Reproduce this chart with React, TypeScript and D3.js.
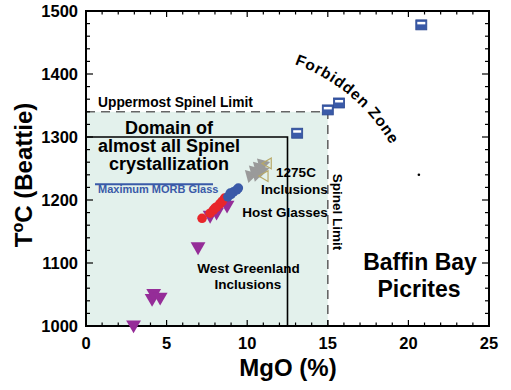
import React from "react";
import * as d3 from "d3";

const W = 511, H = 390;
const FONT = "Arial, 'Liberation Sans', sans-serif";

// axis ticks
const xMajor = [0, 5, 10, 15, 20, 25];
const yMajor = [1000, 1100, 1200, 1300, 1400, 1500];

// data (MgO %, T °C)
const baffinSquares: [number, number][] = [[20.8, 1478], [15.7, 1354], [15.0, 1343], [13.1, 1306]];
const hostBlue: [number, number][] = [[8.8, 1205], [9.0, 1209], [9.15, 1213], [9.35, 1216], [9.45, 1219], [8.95, 1211]];
const hostRed: [number, number][] = [[7.2, 1171], [7.7, 1179], [7.9, 1184], [8.1, 1189], [8.3, 1194], [8.45, 1198], [8.6, 1203], [8.0, 1187]];
const westGreenland: [number, number][] = [[2.95, 1002], [4.1, 1044], [4.2, 1052], [4.6, 1046], [6.95, 1126], [7.7, 1176], [8.1, 1181], [8.75, 1192]];
const inclusions1275: [number, number][] = [[10.2, 1239], [10.45, 1246], [10.7, 1252], [10.95, 1257], [10.6, 1241], [10.9, 1247]];
const openTri: [number, number][] = [[11.3, 1258], [11.1, 1238]];
const smallDot: [number, number][] = [[20.65, 1240]];

// region limits
const spinelLimitMgO = 15;
const spinelLimitT = 1340;
const domainMgO = 12.5;
const domainT = 1300;
const morbGlassT = 1225;

export default function App() {
  const x = d3.scaleLinear().domain([0, 25]).range([86, 489]);
  const y = d3.scaleLinear().domain([1000, 1500]).range([326, 11]);
  const xMinor = d3.range(0, 25.01, 1);
  const yMinor = d3.range(1000, 1500.01, 20);
  const tri = d3.symbol().type(d3.symbolTriangle).size(95)()!;
  const triGray = d3.symbol().type(d3.symbolTriangle).size(80)()!;

  // Forbidden Zone arc
  const cx = 232, cy = 236, r = 183;
  const a0 = (20 * Math.PI) / 180, a1 = (80 * Math.PI) / 180;
  const arcPath = `M ${cx + r * Math.sin(a0)} ${cy - r * Math.cos(a0)} A ${r} ${r} 0 0 1 ${cx + r * Math.sin(a1)} ${cy - r * Math.cos(a1)}`;

  return (
    <svg width={W} height={H} style={{ position: "absolute", left: 0, top: 0, background: "#fff" }} fontFamily={FONT}>
      <defs>
        <path id="fz" d={arcPath} />
      </defs>
      {/* shaded spinel domain */}
      <rect x={x(0)} y={y(spinelLimitT)} width={x(spinelLimitMgO) - x(0)} height={y(1000) - y(spinelLimitT)} fill="#e3f1ec" />
      <path d={`M${x(0)},${y(spinelLimitT)} H${x(spinelLimitMgO)} V${y(1000)}`} fill="none" stroke="#666" strokeWidth={1.6} strokeDasharray="9,6" />
      <path d={`M${x(0)},${y(domainT)} H${x(domainMgO)} V${y(1000)}`} fill="none" stroke="#000" strokeWidth={1.6} />
      <line x1={95} x2={213} y1={y(morbGlassT)} y2={y(morbGlassT)} stroke="#3a5aa8" strokeWidth={2} />

      {/* ticks */}
      {xMinor.map((v) => {
        const len = v % 5 === 0 ? 6 : 3.5;
        return (
          <g key={"xt" + v}>
            <line x1={x(v)} x2={x(v)} y1={y(1000)} y2={y(1000) - len} stroke="#000" strokeWidth={1.2} />
            <line x1={x(v)} x2={x(v)} y1={y(1500)} y2={y(1500) + len} stroke="#000" strokeWidth={1.2} />
          </g>
        );
      })}
      {yMinor.map((v) => {
        const len = v % 100 === 0 ? 7 : 4;
        return (
          <g key={"yt" + v}>
            <line x1={x(0)} x2={x(0) + len} y1={y(v)} y2={y(v)} stroke="#000" strokeWidth={1.2} />
            <line x1={x(25)} x2={x(25) - len} y1={y(v)} y2={y(v)} stroke="#000" strokeWidth={1.2} />
          </g>
        );
      })}
      <rect x={x(0)} y={y(1500)} width={x(25) - x(0)} height={y(1000) - y(1500)} fill="none" stroke="#000" strokeWidth={2} />

      {xMajor.map((v) => (
        <text key={"xl" + v} x={x(v)} y={349} textAnchor="middle" fontSize={16.5} fontWeight="bold">{v}</text>
      ))}
      {yMajor.map((v) => (
        <text key={"yl" + v} x={78} y={y(v) + 6} textAnchor="end" fontSize={16.5} fontWeight="bold">{v}</text>
      ))}
      <text x={288} y={376} textAnchor="middle" fontSize={24} fontWeight="bold">MgO (%)</text>
      <text transform={`translate(32,175) rotate(-90)`} textAnchor="middle" fontSize={24} fontWeight="bold">
        T<tspan fontSize={16} dy={-9}>o</tspan><tspan dy={9}>C (Beattie)</tspan>
      </text>

      {/* annotations */}
      <text x={98} y={107} fontSize={13.8} fontWeight="bold">Uppermost Spinel Limit</text>
      <text x={169} y={134} textAnchor="middle" fontSize={18} fontWeight="bold">Domain of</text>
      <text x={169} y={152} textAnchor="middle" fontSize={18} fontWeight="bold">almost all Spinel</text>
      <text x={169} y={170} textAnchor="middle" fontSize={18} fontWeight="bold">crystallization</text>
      <text x={98} y={193} fontSize={11} fontWeight="bold" fill="#3a5aa8">Maximum MORB Glass</text>
      <text x={296} y={177} textAnchor="middle" fontSize={13.5} fontWeight="bold">1275C</text>
      <text x={294.5} y={194} textAnchor="middle" fontSize={13.5} fontWeight="bold">Inclusions</text>
      <text x={285} y={217} textAnchor="middle" fontSize={13.5} fontWeight="bold">Host Glasses</text>
      <text x={248.5} y={273} textAnchor="middle" fontSize={13.5} fontWeight="bold">West Greenland</text>
      <text x={248} y={289} textAnchor="middle" fontSize={13.5} fontWeight="bold">Inclusions</text>
      <text transform="translate(333,212) rotate(90)" textAnchor="middle" fontSize={13.5} fontWeight="bold">Spinel Limit</text>
      <text x={420} y={270} textAnchor="middle" fontSize={23} fontWeight="bold">Baffin Bay</text>
      <text x={419} y={297} textAnchor="middle" fontSize={23} fontWeight="bold">Picrites</text>
      <text fontSize={15.5} fontWeight="bold" letterSpacing={0.8}>
        <textPath href="#fz">Forbidden Zone</textPath>
      </text>

      {/* data */}
      {westGreenland.map(([m, t], i) => (
        <path key={"wg" + i} d={tri} transform={`translate(${x(m)},${y(t)}) rotate(180)`} fill="#952d98" />
      ))}
      {hostRed.map(([m, t], i) => (
        <circle key={"hr" + i} cx={x(m)} cy={y(t)} r={4.8} fill="#e8262a" />
      ))}
      {hostBlue.map(([m, t], i) => (
        <circle key={"hb" + i} cx={x(m)} cy={y(t)} r={4.8} fill="#3a5aa8" />
      ))}
      {inclusions1275.map(([m, t], i) => (
        <path key={"in" + i} d={triGray} transform={`translate(${x(m)},${y(t)}) rotate(-45)`} fill="#9a9a9a" />
      ))}
      {openTri.map(([m, t], i) => (
        <path key={"ot" + i} d={d3.symbol().type(d3.symbolTriangle).size(50)()!} transform={`translate(${x(m)},${y(t)}) rotate(30)`} fill="none" stroke="#b8a868" strokeWidth={1.2} />
      ))}
      {baffinSquares.map(([m, t], i) => (
        <g key={"bs" + i} transform={`translate(${x(m)},${y(t)})`}>
          <rect x={-5.5} y={-5} width={11} height={10} fill="#3a5aa8" stroke="#2c4890" strokeWidth={0.8} />
          <rect x={-4} y={-3} width={8} height={2.5} fill="#fff" />
        </g>
      ))}
      {smallDot.map(([m, t], i) => (
        <circle key={"sd" + i} cx={x(m)} cy={y(t)} r={1.3} fill="#000" />
      ))}
    </svg>
  );
}
